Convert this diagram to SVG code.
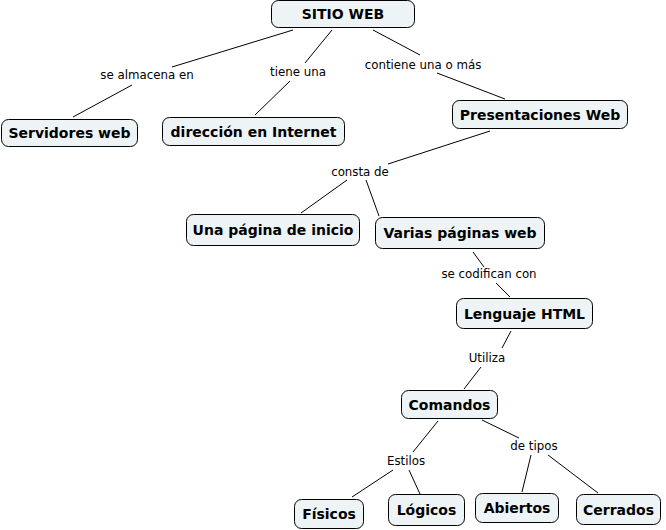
<svg xmlns="http://www.w3.org/2000/svg" width="666" height="530" viewBox="0 0 666 530">
<style>
.n rect{fill:#EEF4F6;stroke:#000;stroke-width:1}
.n text{font-family:"DejaVu Sans",Verdana,sans-serif;font-weight:bold;font-size:14px;fill:#000;text-anchor:middle;dominant-baseline:central}
.l{font-family:"DejaVu Sans",Verdana,sans-serif;font-size:11.8px;fill:#000;text-anchor:middle;dominant-baseline:central}
#connectors line{stroke:#000;stroke-width:1}
</style>
<rect width="666" height="530" fill="#fff"/>
<g id="connectors">
<line x1="293" y1="30" x2="172" y2="67"/>
<line x1="132" y1="85" x2="73" y2="117"/>
<line x1="332" y1="30" x2="305" y2="63"/>
<line x1="290" y1="81" x2="255" y2="115"/>
<line x1="373" y1="30" x2="420" y2="55"/>
<line x1="437" y1="73" x2="505" y2="99"/>
<line x1="490" y1="131" x2="388" y2="164"/>
<line x1="347" y1="180" x2="301" y2="213"/>
<line x1="366" y1="180" x2="379" y2="216"/>
<line x1="473" y1="252" x2="484" y2="267"/>
<line x1="496" y1="283" x2="510" y2="297"/>
<line x1="511" y1="331" x2="502" y2="348"/>
<line x1="481" y1="367" x2="464" y2="389"/>
<line x1="438" y1="421" x2="413" y2="452"/>
<line x1="482" y1="420" x2="519" y2="438"/>
<line x1="393" y1="470" x2="352" y2="497"/>
<line x1="409" y1="470" x2="420" y2="494"/>
<line x1="531" y1="455" x2="522" y2="492"/>
<line x1="548" y1="455" x2="598" y2="493"/>
</g>
<g id="labels">
<text class="l" x="147" y="75">se almacena en</text>
<text class="l" x="298" y="72">tiene una</text>
<text class="l" x="423" y="65">contiene una o más</text>
<text class="l" x="360" y="172">consta de</text>
<text class="l" x="489" y="274">se codifican con</text>
<text class="l" x="487" y="358">Utiliza</text>
<text class="l" x="406" y="461">Estilos</text>
<text class="l" x="534" y="446">de tipos</text>
</g>
<g id="sitio" class="n"><rect x="271.5" y="0.5" width="143" height="27" rx="7"/><text x="343" y="14">SITIO WEB</text></g>
<g id="servidores" class="n"><rect x="1.5" y="119.5" width="136" height="27" rx="7"/><text x="69.5" y="133">Servidores web</text></g>
<g id="direccion" class="n"><rect x="162.5" y="117.5" width="182" height="28" rx="7"/><text x="253.5" y="131.5">dirección en Internet</text></g>
<g id="presentaciones" class="n"><rect x="452.5" y="100.5" width="175" height="28" rx="7"/><text x="540" y="114.5">Presentaciones Web</text></g>
<g id="inicio" class="n"><rect x="186.5" y="214.5" width="173" height="31" rx="7"/><text x="273" y="230">Una página de inicio</text></g>
<g id="varias" class="n"><rect x="375.5" y="217.5" width="169" height="31" rx="7"/><text x="460" y="233">Varias páginas web</text></g>
<g id="html" class="n"><rect x="456.5" y="298.5" width="136" height="30" rx="7"/><text x="524.5" y="313.5">Lenguaje HTML</text></g>
<g id="comandos" class="n"><rect x="401.5" y="390.5" width="96" height="28" rx="7"/><text x="449.5" y="404.5">Comandos</text></g>
<g id="fisicos" class="n"><rect x="294.5" y="499.5" width="69" height="29" rx="7"/><text x="329" y="514">Físicos</text></g>
<g id="logicos" class="n"><rect x="388.5" y="494.5" width="76" height="31" rx="7"/><text x="426.5" y="510">Lógicos</text></g>
<g id="abiertos" class="n"><rect x="475.5" y="493.5" width="83" height="29" rx="7"/><text x="517" y="508">Abiertos</text></g>
<g id="cerrados" class="n"><rect x="576.5" y="494.5" width="84" height="30" rx="7"/><text x="618.5" y="509.5">Cerrados</text></g>
</svg>
